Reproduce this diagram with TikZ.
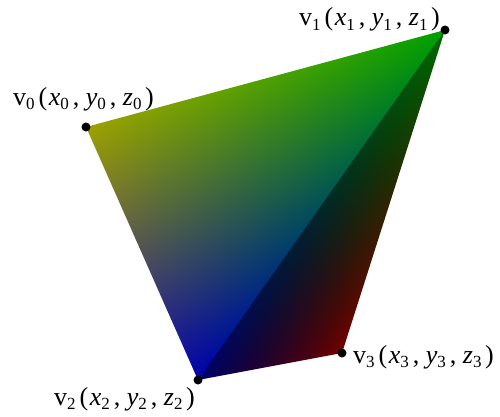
\documentclass[tikz,border=0pt]{standalone}
\usepackage{fontspec}
\setmainfont{Liberation Serif}
\pgfdeclarefunctionalshading{triupper}{\pgfpoint{0bp}{0bp}}{\pgfpoint{500bp}{416bp}}{}{
    2 copy 0.00150593 mul exch -0.00213392 mul add 0.36830 add 3 1 roll
    2 copy 0.00222409 mul exch -0.00060094 mul add 0.03892 add 3 1 roll
    -0.00240060 mul exch 0.00064863 mul add 0.63799 add
}
\pgfdeclarefunctionalshading{trilower}{\pgfpoint{0bp}{0bp}}{\pgfpoint{500bp}{416bp}}{}{
    2 copy -0.00254167 mul exch 0.00360156 mul add -0.62160 add dup 1.111 mul 0.5 add mul 3 1 roll
    2 copy 0.00138300 mul exch -0.00025931 mul add 0.00155588 add dup 1.19 mul 0.5 add mul 3 1 roll
    0.00098923 mul exch -0.00310214 mul add 0.99862 add dup 1.19 mul 0.5 add mul
}
\newcommand{\subnum}[1]{\raisebox{-4.5bp}{\fontsize{17bp}{17bp}\selectfont #1}}
\newcommand{\vertexlabel}[1]{v\subnum{#1}\kern4bp(\kern1.5bp\textit{x}\subnum{#1}\kern4bp,\kern6.5bp\textit{y}\subnum{#1}\kern4bp,\kern6.5bp\textit{z}\subnum{#1}\kern3.5bp)}
\tikzset{
    vertexdot/.style={circle,fill=black,inner sep=0pt,minimum size=9bp},
    vertexlabel/.style={inner sep=0pt,font=\fontsize{26bp}{28bp}\selectfont},
}
\begin{document}
\begin{tikzpicture}[x=1bp,y=1bp]
    \useasboundingbox (0,0) rectangle (500,416);
    \coordinate (p0) at (86,289);
    \coordinate (p1) at (445,386);
    \coordinate (p2) at (198,36);
    \coordinate (p3) at (342,63);
    \coordinate (pm) at (316,212);
    \begin{scope}
        \clip (p1) -- (p3) -- (p2) -- (pm) -- cycle;
        \node[inner sep=0pt,outer sep=0pt] (lower) at (250,208) {\pgfuseshading{trilower}};
    \end{scope}
    \begin{scope}
        \clip (p0) -- (p1) -- (p2) -- cycle;
        \node[inner sep=0pt,outer sep=0pt] (upper) at (250,208) {\pgfuseshading{triupper}};
    \end{scope}
    \foreach \i in {0,1,2,3} {
        \node[vertexdot] (v\i) at (p\i) {};
    }
    \node[vertexlabel,anchor=base west] (l0) at (13,311) {\vertexlabel{0}};
    \node[vertexlabel,anchor=base west] (l1) at (299,390) {\vertexlabel{1}};
    \node[vertexlabel,anchor=base west] (l2) at (54,11) {\vertexlabel{2}};
    \node[vertexlabel,anchor=base west] (l3) at (353,53) {\vertexlabel{3}};
\end{tikzpicture}
\end{document}
